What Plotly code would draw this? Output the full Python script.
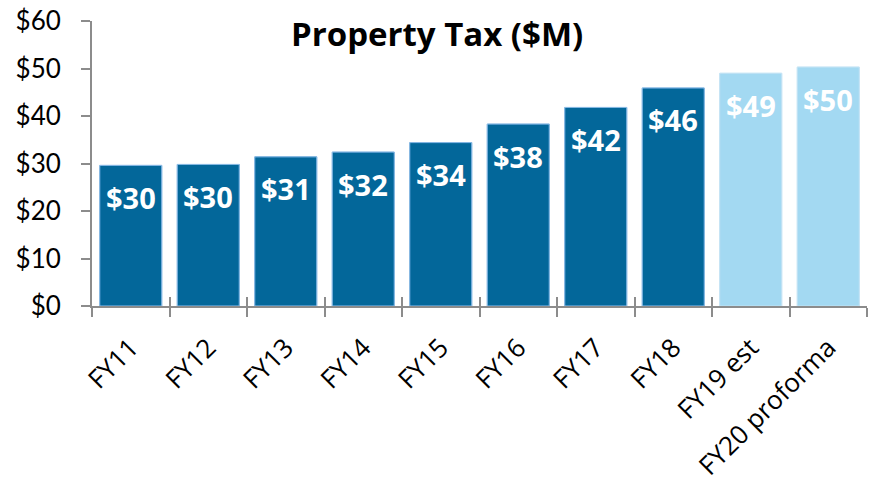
import plotly.graph_objects as go

categories = ["FY11", "FY12", "FY13", "FY14", "FY15", "FY16", "FY17", "FY18", "FY19 est", "FY20 proforma"]
values = [29.6, 29.8, 31.4, 32.4, 34.4, 38.3, 41.8, 45.9, 49.0, 50.3]
is_projection = [False] * 8 + [True, True]
y_ticks = [0, 10, 20, 30, 40, 50, 60]
y_tick_text = ["$0", "$10", "$20", "$30", "$40", "$50", "$60"]

DARK = "#03679A"
LIGHT = "#A3D9F2"
FONT = "Lato, 'Open Sans', sans-serif"
XFONT = "'Open Sans', Lato, sans-serif"
BOLD_FONT = "'Open Sans', Lato, sans-serif"

colors = [LIGHT if p else DARK for p in is_projection]
line_colors = [LIGHT if p else "#2B85D0" for p in is_projection]

fig = go.Figure()
fig.add_trace(go.Bar(
    x=categories, y=values,
    marker=dict(color=colors, line=dict(color=line_colors, width=1)),
    hoverinfo="skip",
))
# invisible twin on overlaying axis to draw upper half of the cross ticks
fig.add_trace(go.Bar(
    x=categories, y=values, xaxis="x2",
    marker=dict(color="rgba(0,0,0,0)"), hoverinfo="skip", showlegend=False,
))

for c, v in zip(categories, values):
    fig.add_annotation(
        x=c, y=v, text=f"<b>${v:.0f}</b>", showarrow=False,
        yanchor="middle", yshift=-32,
        font=dict(family=BOLD_FONT, size=29, color="white"),
    )

fig.add_annotation(
    x=0.445, xref="paper", y=1 - (33 - 21) / 285, yref="paper", yanchor="middle",
    text="<b>Property Tax ($M)</b>", showarrow=False,
    font=dict(family=BOLD_FONT, size=33, color="black"),
)

fig.update_layout(
    width=870, height=487,
    margin=dict(l=92, r=3, t=21, b=181, autoexpand=False),
    plot_bgcolor="white", paper_bgcolor="white",
    showlegend=False, bargap=0.2,
    font=dict(family=FONT, color="black"),
    xaxis=dict(
        type="category", showline=True, linecolor="#8C8C8C", linewidth=2,
        ticks="outside", tickson="boundaries", ticklen=9, tickwidth=2, tickcolor="#8C8C8C",
        tickangle=-45, tickfont=dict(size=26, family=XFONT), ticklabelstandoff=14,
        showgrid=False, zeroline=False, automargin=False,
    ),
    xaxis2=dict(
        type="category", overlaying="x", matches="x", side="bottom",
        ticks="inside", tickson="boundaries", ticklen=9, tickwidth=2, tickcolor="#8C8C8C",
        showticklabels=False, showgrid=False, zeroline=False, showline=False, automargin=False,
    ),
    yaxis=dict(
        range=[0, 60], tickvals=y_ticks, ticktext=y_tick_text,
        showline=True, linecolor="#8C8C8C", linewidth=2,
        ticks="outside", ticklen=9, tickwidth=2, tickcolor="#8C8C8C",
        tickfont=dict(size=26, family=FONT), ticklabelstandoff=15,
        showgrid=False, zeroline=False, automargin=False,
    ),
)

fig.write_html(
    "out.html",
    config={"displayModeBar": False},
    post_script="document.body.style.margin='0';document.body.style.overflow='hidden';",
)
